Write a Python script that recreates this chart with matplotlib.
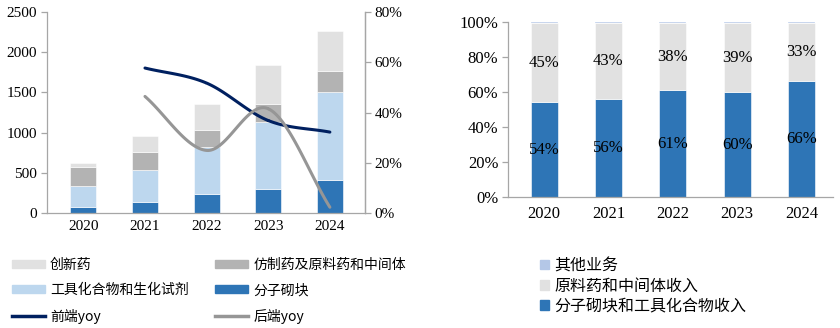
import numpy as np
import matplotlib
matplotlib.use("Agg")
import matplotlib.pyplot as plt
from matplotlib.patches import Patch
from matplotlib.lines import Line2D
from matplotlib.ticker import FuncFormatter

plt.rcParams['font.family'] = ['Liberation Serif', 'Noto Sans CJK SC', 'DejaVu Sans']

years = ['2020', '2021', '2022', '2023', '2024']
# left chart (stacked)
mol_blocks = [70, 133, 237, 300, 410]        # 分子砌块
tool_cpds = [270, 407, 590, 830, 1090]       # 工具化合物和生化试剂
generic = [230, 216, 203, 220, 262]          # 仿制药及原料药和中间体
innovative = [55, 204, 320, 490, 498]        # 创新药
front_yoy = [57.7, 51.7, 36.8, 32.2]         # 前端yoy (2021-2024), %
back_yoy = [46.4, 24.9, 41.5, 2.3]           # 后端yoy (2021-2024), %

# right chart (share)
share_front = [54, 56, 61, 60, 66]           # 分子砌块和工具化合物收入
share_back = [45, 43, 38, 39, 33]            # 原料药和中间体收入
share_other = [1, 1, 1, 1, 1]                # 其他业务

C_INNO = '#E1E1E1'
C_GEN = '#B3B3B3'
C_TOOL = '#BDD7EE'
C_MOL = '#2E75B6'
C_FRONT = '#002060'
C_BACK = '#969696'
C_OTHER = '#B4C7E7'
AX_C = '#A6A6A6'


def catmull(xs, ys, n=40):
    xs = np.asarray(xs, float); ys = np.asarray(ys, float)
    P = np.column_stack([xs, ys])
    P = np.vstack([P[0] - (P[1] - P[0]), P, P[-1] + (P[-1] - P[-2])])
    out = []
    for i in range(1, len(P) - 2):
        p0, p1, p2, p3 = P[i - 1], P[i], P[i + 1], P[i + 2]
        t = np.linspace(0, 1, n)[:, None]
        seg = 0.5 * ((2 * p1) + (-p0 + p2) * t + (2 * p0 - 5 * p1 + 4 * p2 - p3) * t ** 2
                     + (-p0 + 3 * p1 - 3 * p2 + p3) * t ** 3)
        out.append(seg)
    o = np.vstack(out)
    return o[:, 0], o[:, 1]


fig = plt.figure(figsize=(8.4, 3.28), dpi=100)

# ---------- left chart ----------
ax = fig.add_axes([47 / 840, 1 - 213 / 328, 318 / 840, 201 / 328])
x = np.arange(len(years))
w = 0.42
b0 = np.zeros(5)
ax.bar(x, mol_blocks, w, bottom=b0, color=C_MOL, edgecolor='white', linewidth=0.4, zorder=2)
b1 = b0 + np.array(mol_blocks)
ax.bar(x, tool_cpds, w, bottom=b1, color=C_TOOL, edgecolor='white', linewidth=0.4, zorder=2)
b2 = b1 + np.array(tool_cpds)
ax.bar(x, generic, w, bottom=b2, color=C_GEN, edgecolor='white', linewidth=0.4, zorder=2)
b3 = b2 + np.array(generic)
ax.bar(x, innovative, w, bottom=b3, color=C_INNO, edgecolor='white', linewidth=0.4, zorder=2)
ax.set_xlim(-0.59, 4.57)
ax.set_ylim(0, 2500)
ax.set_yticks([0, 500, 1000, 1500, 2000, 2500])
ax.set_xticks(x)
ax.set_xticklabels(years)
for s in ['top']:
    ax.spines[s].set_visible(False)
for s in ['left', 'bottom', 'right']:
    ax.spines[s].set_color(AX_C)
    ax.spines[s].set_linewidth(0.9)
ax.tick_params(axis='y', colors=AX_C, labelcolor='black', labelsize=11, length=4, width=0.9, pad=3)
ax.tick_params(axis='x', length=0, labelsize=11, pad=5)

ax2 = ax.twinx()
ax2.set_ylim(0, 80)
ax2.set_yticks([0, 20, 40, 60, 80])
ax2.yaxis.set_major_formatter(FuncFormatter(lambda v, p: f'{int(v)}%'))
for s in ['top', 'left', 'bottom']:
    ax2.spines[s].set_visible(False)
ax2.spines['right'].set_color(AX_C)
ax2.spines['right'].set_linewidth(0.9)
ax2.tick_params(axis='y', colors=AX_C, labelcolor='black', labelsize=11, length=4, width=0.9, pad=3)
xl = x[1:]
fx, fy = catmull(xl, front_yoy)
bx, by = catmull(xl, back_yoy)
ax2.plot(fx, fy, color=C_FRONT, lw=2.2, solid_capstyle='round', zorder=3)
ax2.plot(bx, by, color=C_BACK, lw=2.2, solid_capstyle='round', zorder=3)

handles = [Patch(color=C_INNO), Patch(color=C_TOOL), Line2D([], [], color=C_FRONT, lw=2.5),
           Patch(color=C_GEN), Patch(color=C_MOL), Line2D([], [], color=C_BACK, lw=2.5)]
labels = ['创新药', '工具化合物和生化试剂', '前端yoy', '仿制药及原料药和中间体', '分子砌块', '后端yoy']
leg = fig.legend(handles, labels, ncol=2, loc='upper left', bbox_to_anchor=(2 / 840, 1 - 248 / 328),
                 frameon=False, prop={'family': ['Noto Sans CJK SC'], 'size': 10},
                 handlelength=2.4, handleheight=0.5, handletextpad=0.35, labelspacing=0.82,
                 columnspacing=1.9, borderpad=0.2)

# ---------- right chart ----------
axr = fig.add_axes([508 / 840, 1 - 197.3 / 328, 325 / 840, 175.6 / 328])
wr = 0.42
sf = np.array(share_front); sb = np.array(share_back); so = np.array(share_other)
axr.bar(x, sf, wr, color=C_MOL, edgecolor='white', linewidth=0.4, zorder=2)
axr.bar(x, sb, wr, bottom=sf, color=C_INNO, edgecolor='white', linewidth=0.4, zorder=2)
axr.bar(x, so, wr, bottom=sf + sb, color=C_OTHER, edgecolor='white', linewidth=0.2, zorder=2)
for i in range(5):
    axr.text(x[i], sf[i] / 2, f'{sf[i]}%', ha='center', va='center', fontsize=12, zorder=4)
    axr.text(x[i], sf[i] + sb[i] / 2, f'{sb[i]}%', ha='center', va='center', fontsize=12, zorder=4)
axr.set_xlim(-0.56, 4.49)
axr.set_ylim(0, 100)
axr.set_yticks([0, 20, 40, 60, 80, 100])
axr.yaxis.set_major_formatter(FuncFormatter(lambda v, p: f'{int(v)}%'))
axr.set_xticks(x)
axr.set_xticklabels(years)
for s in ['top', 'right']:
    axr.spines[s].set_visible(False)
for s in ['left', 'bottom']:
    axr.spines[s].set_color(AX_C)
    axr.spines[s].set_linewidth(0.9)
axr.tick_params(axis='y', colors=AX_C, labelcolor='black', labelsize=12, length=4, width=0.9, pad=3)
axr.tick_params(axis='x', length=0, labelsize=12, pad=6)

handles_r = [Patch(color=C_OTHER), Patch(color=C_INNO), Patch(color=C_MOL)]
labels_r = ['其他业务', '原料药和中间体收入', '分子砌块和工具化合物收入']
fig.legend(handles_r, labels_r, ncol=1, loc='upper left', bbox_to_anchor=(529 / 840, 1 - 246 / 328),
           frameon=False, prop={'family': ['Noto Sans CJK SC'], 'size': 11.5},
           handlelength=0.55, handleheight=0.55, handletextpad=0.35, labelspacing=0.2, borderpad=0.2)

fig.savefig('out.png', dpi=100)
